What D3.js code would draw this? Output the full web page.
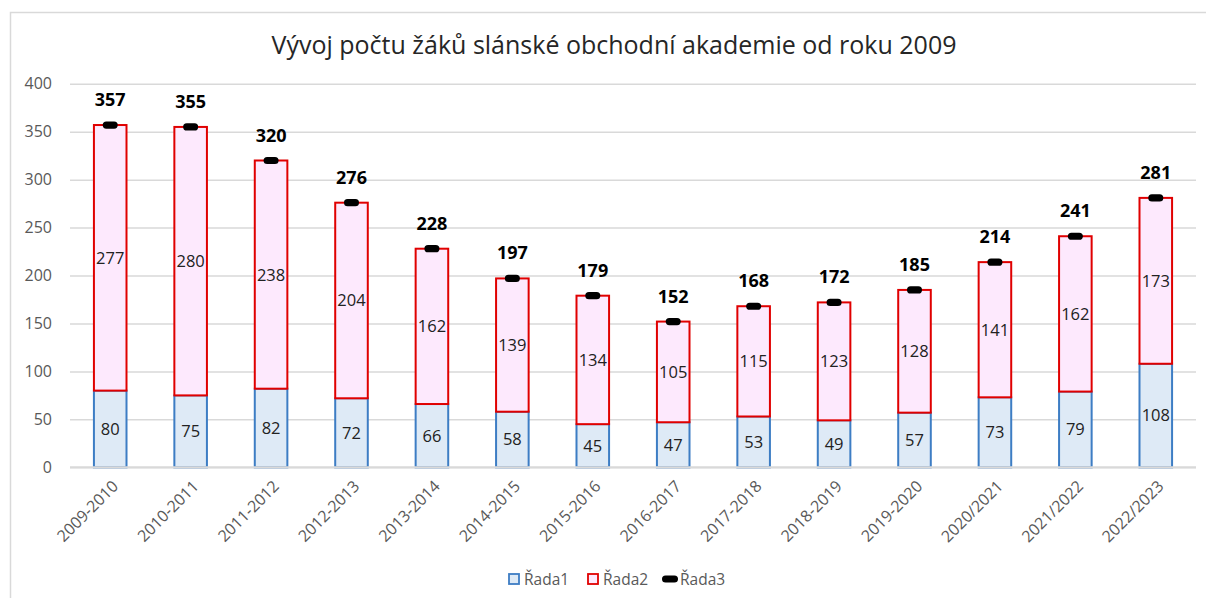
<!DOCTYPE html>
<html><head><meta charset="utf-8">
<script src="https://cdn.jsdelivr.net/npm/d3@7"></script>
<style>
html,body{margin:0;padding:0;background:#fff;}
svg{display:block;}
text{font-family:"Open Sans","Noto Sans",sans-serif;}
</style></head>
<body>
<svg id="chart" width="1206" height="598"></svg>
<script>
const title = "Vývoj počtu žáků slánské obchodní akademie od roku 2009";
const categories = ["2009-2010","2010-2011","2011-2012","2012-2013","2013-2014","2014-2015","2015-2016","2016-2017","2017-2018","2018-2019","2019-2020","2020/2021","2021/2022","2022/2023"];
const rada1 = [80,75,82,72,66,58,45,47,53,49,57,73,79,108];
const rada2 = [277,280,238,204,162,139,134,105,115,123,128,141,162,173];
const rada3 = [357,355,320,276,228,197,179,152,168,172,185,214,241,281];
const yTicks = [0,50,100,150,200,250,300,350,400];
const seriesNames = ["Řada1","Řada2","Řada3"];

const svg = d3.select("#chart");

// chart frame
svg.append("rect").attr("x",10.5).attr("y",12.5).attr("width",1220).attr("height",620)
  .attr("fill","none").attr("stroke","#d9d9d9").attr("stroke-width",1.5);

const x = d3.scaleBand().domain(categories).range([70,1196]).paddingInner(0.595).paddingOuter(0.2975);
const y = d3.scaleLinear().domain([0,400]).range([467.3,83.8]);

// gridlines
const yAxis = d3.axisLeft(y).tickValues(yTicks).tickSize(-(1196-70)).tickPadding(18);
const gy = svg.append("g").attr("transform","translate(70,0)").call(yAxis);
gy.select(".domain").remove();
gy.selectAll(".tick line").attr("stroke","#d9d9d9").attr("stroke-width",1.5);
gy.selectAll(".tick text").attr("fill","#595959").style("font-size","16px").attr("x",-18);

// title
svg.append("text").attr("x",614).attr("y",54).attr("text-anchor","middle")
  .attr("fill","#262626").style("font-size","25px").text(title);

const data = categories.map((c,i)=>({c, a:rada1[i], b:rada2[i], t:rada3[i]}));

// Řada1 bars
svg.append("g").selectAll("rect").data(data).join("rect")
  .attr("x",d=>x(d.c)).attr("width",x.bandwidth())
  .attr("y",d=>y(d.a)).attr("height",d=>y(0)-y(d.a))
  .attr("fill","#deeaf6").attr("stroke","#3d7dc4").attr("stroke-width",2);
// Řada2 bars
svg.append("g").selectAll("rect").data(data).join("rect")
  .attr("x",d=>x(d.c)).attr("width",x.bandwidth())
  .attr("y",d=>y(d.a+d.b)).attr("height",d=>y(d.a)-y(d.a+d.b))
  .attr("fill","#fde9fd").attr("stroke","#e00000").attr("stroke-width",2);

// baseline
svg.append("line").attr("x1",70).attr("x2",1196).attr("y1",y(0)).attr("y2",y(0))
  .attr("stroke","#d9d9d9").attr("stroke-width",2);

// segment labels
svg.append("g").selectAll("text").data(data).join("text")
  .attr("x",d=>x(d.c)+x.bandwidth()/2).attr("y",d=>(y(0)+y(d.a))/2)
  .attr("dy","0.36em").attr("text-anchor","middle").attr("fill","#222")
  .style("font-size","16.5px").text(d=>d.a);
svg.append("g").selectAll("text").data(data).join("text")
  .attr("x",d=>x(d.c)+x.bandwidth()/2).attr("y",d=>(y(d.a)+y(d.a+d.b))/2)
  .attr("dy","0.36em").attr("text-anchor","middle").attr("fill","#222")
  .style("font-size","16.5px").text(d=>d.b);

// Řada3 markers
svg.append("g").selectAll("rect").data(data).join("rect")
  .attr("x",d=>x(d.c)+x.bandwidth()/2-7.5).attr("y",d=>y(d.t)-3.6)
  .attr("width",15).attr("height",7.2).attr("rx",3.6).attr("fill","#000");
svg.append("g").selectAll("text").data(data).join("text")
  .attr("x",d=>x(d.c)+x.bandwidth()/2).attr("y",d=>y(d.t)-19)
  .attr("text-anchor","middle").attr("fill","#000").style("font-weight","bold")
  .style("font-size","18px").text(d=>d.t);

// x axis labels
const xAxis = d3.axisBottom(x).tickSize(0).tickPadding(0);
const gx = svg.append("g").attr("transform",`translate(0,${y(0)})`).call(xAxis);
gx.select(".domain").remove();
gx.selectAll(".tick text")
  .attr("fill","#595959").style("font-size","16px")
  .attr("text-anchor","end").attr("dy","0.35em")
  .attr("transform","translate(5,16) rotate(-45)");

// legend
const leg = svg.append("g").attr("transform","translate(0,579)");
const items = [
  {name:seriesNames[0], x:508, type:"rect", fill:"#deeaf6", stroke:"#3d7dc4"},
  {name:seriesNames[1], x:587, type:"rect", fill:"#fde9fd", stroke:"#e00000"},
  {name:seriesNames[2], x:662, type:"ell"}
];
items.forEach(it=>{
  if(it.type==="rect"){
    leg.append("rect").attr("x",it.x+1).attr("y",-5).attr("width",10).attr("height",10)
      .attr("fill",it.fill).attr("stroke",it.stroke).attr("stroke-width",1.8);
    leg.append("text").attr("x",it.x+16).attr("y",0).attr("dy","0.36em")
      .attr("fill","#595959").style("font-size","15.5px").text(it.name);
  } else {
    leg.append("rect").attr("x",it.x).attr("y",-3.6).attr("width",16).attr("height",7.2).attr("rx",3.6).attr("fill","#000");
    leg.append("text").attr("x",it.x+18).attr("y",0).attr("dy","0.36em")
      .attr("fill","#595959").style("font-size","15.5px").text(it.name);
  }
});
</script>
</body></html>
